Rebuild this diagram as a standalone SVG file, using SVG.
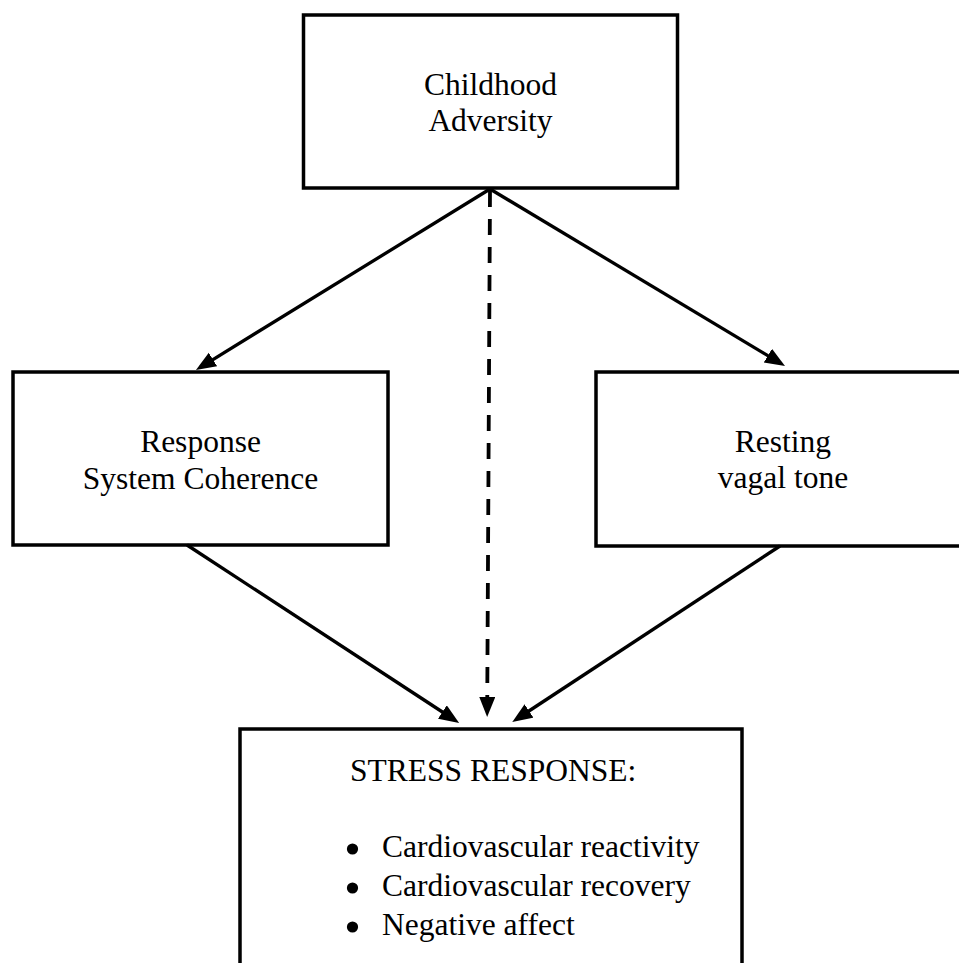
<svg xmlns="http://www.w3.org/2000/svg" width="959" height="963" viewBox="0 0 959 963">
<style>
.box{fill:#fff;stroke:#000;stroke-width:3.5}
.t{font-family:"Liberation Serif","Times New Roman",serif;font-size:31.5px;fill:#000}
.c{text-anchor:middle}
.arr{stroke:#000;stroke-width:3.3;fill:none}
.dash{stroke-dasharray:16 12;stroke-width:3.8}
</style>
<defs>
<marker id="ah" markerUnits="userSpaceOnUse" markerWidth="22" markerHeight="18" refX="11" refY="8" orient="auto">
<path d="M0,0 L20,8 L0,16 z" fill="#000"/>
</marker>
</defs>
<rect width="959" height="963" fill="#fff"/>
<g id="childhood">
<rect class="box" x="303.5" y="15" width="374" height="173"/>
<text class="t c" x="490.5" y="95">Childhood</text>
<text class="t c" x="490.5" y="131">Adversity</text>
</g>
<g id="coherence">
<rect class="box" x="13" y="372" width="375" height="173"/>
<text class="t c" x="200.5" y="452">Response</text>
<text class="t c" x="200.5" y="489">System Coherence</text>
</g>
<g id="vagal">
<rect class="box" x="596" y="372" width="380" height="174"/>
<text class="t c" x="783" y="452">Resting</text>
<text class="t c" x="783" y="488">vagal tone</text>
</g>
<g id="stress">
<rect class="box" x="240" y="729" width="502" height="260"/>
<text class="t" x="350" y="781">STRESS RESPONSE:</text>
<circle cx="352.5" cy="849" r="5.6"/>
<circle cx="352.5" cy="888" r="5.6"/>
<circle cx="352.5" cy="927" r="5.6"/>
<text class="t" x="382" y="857">Cardiovascular reactivity</text>
<text class="t" x="382" y="896">Cardiovascular recovery</text>
<text class="t" x="382" y="935">Negative affect</text>
</g>
<g id="connectors">
<line class="arr" x1="490" y1="189" x2="203.6" y2="365.3" marker-end="url(#ah)"/>
<line class="arr" x1="490" y1="189" x2="777.3" y2="361.3" marker-end="url(#ah)"/>
<line class="arr dash" x1="490" y1="191" x2="487.2" y2="708" marker-end="url(#ah)"/>
<line class="arr" x1="187" y1="545" x2="451.6" y2="718" marker-end="url(#ah)"/>
<line class="arr" x1="780" y1="546" x2="519.8" y2="717" marker-end="url(#ah)"/>
</g>
</svg>
